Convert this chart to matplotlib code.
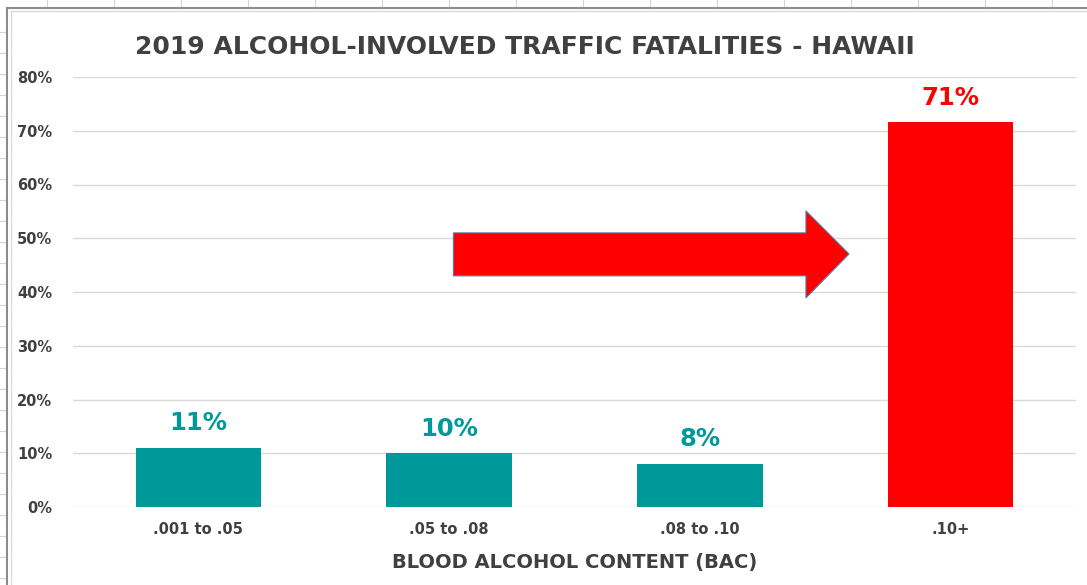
import matplotlib
matplotlib.use('Agg')
import matplotlib.pyplot as plt
from matplotlib.patches import Polygon
from matplotlib.lines import Line2D

categories = ['.001 to .05', '.05 to .08', '.08 to .10', '.10+']
shares = [0.11, 0.10, 0.08, 0.716]
share_labels = ['11%', '10%', '8%', '71%']
bar_colors = ['#009999', '#009999', '#009999', '#ff0000']
y_ticks = [0, 0.1, 0.2, 0.3, 0.4, 0.5, 0.6, 0.7, 0.8]

plt.rcParams['font.family'] = ['DejaVu Sans']
dark = '#404040'

W, H = 1087, 585
fig = plt.figure(figsize=(W / 100, H / 100), dpi=100)

# spreadsheet cells peeking out behind the chart
for x in range(47, W, 67):
    fig.add_artist(Line2D([x / W, x / W], [1, 1 - 8 / H], color='#d4d4d4', lw=0.8))
for y in range(32, H, 21):
    fig.add_artist(Line2D([0, 7 / W], [1 - y / H, 1 - y / H], color='#d4d4d4', lw=0.8))
# chart frame
fig.add_artist(Line2D([7 / W, 1], [1 - 8 / H, 1 - 8 / H], color='#8c8c8c', lw=1.5))
fig.add_artist(Line2D([7 / W, 7 / W], [0, 1 - 8 / H], color='#8c8c8c', lw=1.5))
fig.add_artist(Line2D([11 / W, 1], [1 - 11 / H, 1 - 11 / H], color='#d9d9d9', lw=1))
fig.add_artist(Line2D([11 / W, 11 / W], [0, 1 - 11 / H], color='#d9d9d9', lw=1))

ax = fig.add_axes([73 / W, 78 / H, (1076 - 73) / W, (507 - 77) / H])
x = range(len(categories))
ax.bar(x, shares, width=0.5, color=bar_colors, zorder=3)
ax.set_xlim(-0.5, len(categories) - 0.5)
ax.set_ylim(0, 0.8)
ax.set_yticks(y_ticks)
ax.set_yticklabels([f'{int(round(t * 100))}%' for t in y_ticks])
ax.set_xticks(list(x))
ax.set_xticklabels(categories)
ax.grid(axis='y', color='#d9d9d9', lw=1, zorder=0)
for s in ax.spines.values():
    s.set_visible(False)
ax.tick_params(length=0, labelsize=10.5, labelcolor=dark)
ax.tick_params(axis='y', pad=15)
ax.tick_params(axis='x', pad=11)
for lbl in ax.get_xticklabels() + ax.get_yticklabels():
    lbl.set_fontweight('bold')

for i, (v, t, c) in enumerate(zip(shares, share_labels, bar_colors)):
    ax.annotate(t, (i, v), xytext=(0, 9), textcoords='offset points',
                ha='center', va='bottom', fontsize=17.5, fontweight='bold', color=c)

ax.set_xlabel('BLOOD ALCOHOL CONTENT (BAC)', fontsize=14, fontweight='bold',
              color=dark, labelpad=11)
fig.text(525 / W, 1 - 47 / H, '2019 ALCOHOL-INVOLVED TRAFFIC FATALITIES - HAWAII',
         ha='center', va='center', fontsize=18, fontweight='bold', color=dark)

# block arrow pointing at the last bar
arrow = Polygon([(1.017, 0.51), (2.423, 0.51), (2.423, 0.551), (2.595, 0.4707),
                 (2.423, 0.389), (2.423, 0.43), (1.017, 0.43)],
                closed=True, facecolor='#ff0000', edgecolor='#5b7bb0', lw=0.8, zorder=4)
ax.add_patch(arrow)

fig.savefig('out.png', dpi=100)
